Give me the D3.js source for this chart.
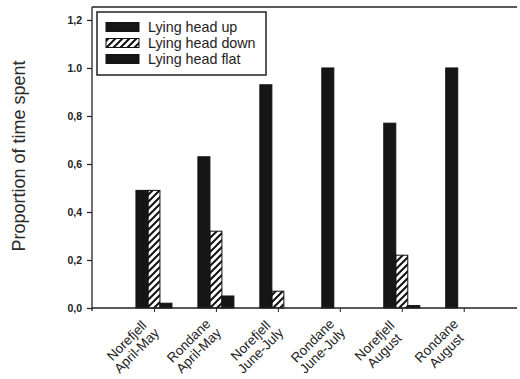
<!DOCTYPE html>
<html>
<head>
<meta charset="utf-8">
<script src="https://cdn.jsdelivr.net/npm/d3@7"></script>
<style>
body { margin: 0; background: #fff; }
svg { font-family: "Liberation Sans", Arial, sans-serif; }
</style>
</head>
<body>
<svg id="chart" width="520" height="379"></svg>
<script>
var sites = ["Norefjell", "Rondane", "Norefjell", "Rondane", "Norefjell", "Rondane"];
var periods = ["April-May", "April-May", "June-July", "June-July", "August", "August"];
var headUp = [0.49, 0.63, 0.93, 1.0, 0.77, 1.0];
var headDown = [0.49, 0.32, 0.07, 0, 0.22, 0];
var headFlat = [0.02, 0.05, 0, 0, 0.01, 0];
var seriesNames = ["Lying head up", "Lying head down", "Lying head flat"];
var yTicks = [0, 0.2, 0.4, 0.6, 0.8, 1.0, 1.2];
var yTickLabels = ["0,0", "0,2", "0,4", "0,6", "0,8", "1.0", "1,2"];

var svg = d3.select("#chart");

// hatch pattern
var defs = svg.append("defs");
defs.append("pattern")
    .attr("id", "hatch").attr("patternUnits", "userSpaceOnUse")
    .attr("width", 7).attr("height", 7)
    .append("path")
    .attr("d", "M-1,8 L8,-1 M-4,4 L4,-4 M3,11 L11,3")
    .attr("stroke", "#111").attr("stroke-width", 2);

var pLeft = 92, pRight = 517, pTop = 7, pBottom = 308;
var x = d3.scaleLinear().domain([0, 6.86]).range([pLeft, pRight]);
var y = d3.scaleLinear().domain([0, 1.254]).range([pBottom, pTop]);
var bw = 12;

// frame
svg.append("line").attr("x1", pLeft).attr("x2", pRight).attr("y1", pTop).attr("y2", pTop)
    .attr("stroke", "#222").attr("stroke-width", 1.3);

var series = [
    { vals: headUp, fill: "#161616", off: -1 },
    { vals: headDown, fill: "url(#hatch)", off: 0 },
    { vals: headFlat, fill: "#161616", off: 1 }
];

series.forEach(function (s) {
    svg.append("g").selectAll("rect")
        .data(s.vals.map(function (v, i) { return { v: v, i: i }; }).filter(function (d) { return d.v > 0; }))
        .enter().append("rect")
        .attr("x", function (d) { return x(d.i + 1) + s.off * bw - bw / 2; })
        .attr("y", function (d) { return y(d.v); })
        .attr("width", bw)
        .attr("height", function (d) { return y(0) - y(d.v); })
        .attr("fill", s.fill)
        .attr("stroke", "#111").attr("stroke-width", 1);
});

// y axis
var yAxis = svg.append("g").attr("transform", "translate(" + pLeft + ",0)")
    .call(d3.axisLeft(y).tickValues(yTicks).tickSize(5).tickPadding(5)
        .tickFormat(function (d, i) { return yTickLabels[i]; }));
yAxis.select(".domain").attr("d", "M0," + pTop + "V" + (pBottom + 3)).attr("stroke", "#222").attr("stroke-width", 1.3);
yAxis.selectAll(".tick line").attr("stroke", "#222").attr("stroke-width", 1.2);
yAxis.selectAll("text").attr("font-size", 10.5).attr("font-weight", "bold").attr("fill", "#222");

// x axis
var xAxis = svg.append("g").attr("transform", "translate(0," + pBottom + ")")
    .call(d3.axisBottom(x).tickValues([1, 2, 3, 4, 5, 6]).tickSize(4).tickFormat(""));
xAxis.select(".domain").attr("d", "M" + pLeft + ",0H" + pRight).attr("stroke", "#222").attr("stroke-width", 1.3);
xAxis.selectAll(".tick line").attr("stroke", "#222");

// x labels
var lab = svg.append("g").selectAll("g").data(sites).enter().append("g")
    .attr("transform", function (d, i) { return "translate(" + (x(i + 1) - 24) + ",344) rotate(-45)"; });
lab.append("text").attr("text-anchor", "middle").attr("font-size", 13.5).attr("fill", "#222")
    .text(function (d) { return d; });
lab.append("text").attr("text-anchor", "middle").attr("font-size", 13.5).attr("fill", "#222")
    .attr("y", 14).text(function (d, i) { return periods[i]; });

// y title
svg.append("text").attr("transform", "translate(25,156) rotate(-90)")
    .attr("text-anchor", "middle").attr("font-size", 18).attr("fill", "#2a2a2a")
    .text("Proportion of time spent");

// legend
var lg = svg.append("g");
lg.append("rect").attr("x", 97).attr("y", 12).attr("width", 169).attr("height", 63)
    .attr("fill", "#fff").attr("stroke", "#222").attr("stroke-width", 1.5);
var fills = ["#161616", "url(#hatch)", "#161616"];
seriesNames.forEach(function (n, i) {
    var cy = 27 + i * 16;
    lg.append("rect").attr("x", 106).attr("y", cy - 4.5).attr("width", 33).attr("height", 9)
        .attr("fill", fills[i]).attr("stroke", "#111").attr("stroke-width", 1);
    lg.append("text").attr("x", 148).attr("y", cy + 5).attr("font-size", 14.3).attr("fill", "#222").text(n);
});
</script>
</body>
</html>
